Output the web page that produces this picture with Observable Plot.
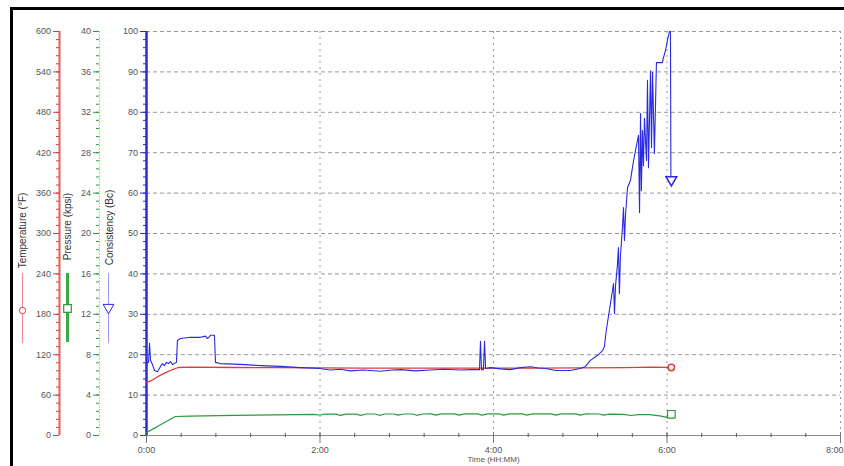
<!DOCTYPE html>
<html><head><meta charset="utf-8">
<script src="https://cdn.jsdelivr.net/npm/d3@7"></script>
<script src="https://cdn.jsdelivr.net/npm/@observablehq/plot@0.6"></script>
<style>
html,body{margin:0;padding:0;background:#fff;}
#wrap{position:relative;width:844px;height:466px;overflow:hidden;}
#frame{position:absolute;left:10px;top:7px;right:0;bottom:0;border-top:3px solid #000;border-left:3px solid #000;pointer-events:none;}
</style></head><body><div id="wrap"><div id="frame"></div></div>
<script>
// ---- data (time in minutes) ----
const timeTicks = [0, 120, 240, 360, 480];
const timeTickLabels = ["0:00", "2:00", "4:00", "6:00", "8:00"];
const tempTicks = [0, 60, 120, 180, 240, 300, 360, 420, 480, 540, 600];
const pressureTicks = [0, 4, 8, 12, 16, 20, 24, 28, 32, 36, 40];
const consistencyTicks = [0, 10, 20, 30, 40, 50, 60, 70, 80, 90, 100];

const tempMax = 600, pressureMax = 40, consistencyMax = 100;

// Temperature (°F)
const temperature = [
  [0,79],[3,81],[6,85],[10,90],[14,94],[18,98],[22,101],[30,101.5],[60,101],[90,100.8],
  [120,100.3],[150,100],[180,100.2],[210,100],[240,100],[270,100.2],[300,100.4],[330,100.8],
  [350,101.5],[363,101]
];

// Pressure (kpsi)
const pressure = [
  [0,0.30],[5,0.68],[10,1.08],[15,1.48],[20,1.88],[30,1.92],[60,1.99],[90,2.05],[115,2.10],
  [120,2.03],[124,2.12],[131,2.12],[134,2.0],[138,2.12],[145,2.12],[148,2.0],[152,2.13],
  [158,2.13],[161,2.0],[165,2.13],[171,2.13],[174,2.01],[178,2.13],[184,2.13],[187,2.0],
  [191,2.13],[197,2.14],[200,2.01],[204,2.14],[213,2.14],[216,2.01],[220,2.14],[229,2.14],
  [232,2.02],[236,2.14],[244,2.14],[247,2.02],[251,2.14],[260,2.14],[263,2.02],[267,2.14],
  [280,2.14],[283,2.02],[287,2.14],[297,2.14],[300,2.02],[304,2.14],[313,2.13],[316,2.02],
  [320,2.12],[330,2.1],[335,1.98],[340,2.06],[348,2.06],[355,1.95],[360,1.8],[361.5,2.15],[363,2.1]
];

// Consistency (Bc)
const consistency = [
  [0,17.8],[1.4,18.1],[2.1,22.8],[2.8,18.6],[4.1,17.6],[5.5,16.1],[7.6,15.8],[9.7,17.1],[11,17.8],
  [12.4,17.3],[13.8,18.1],[15.2,17.8],[16.6,18.3],[18,17.6],[20.7,18.1],[21.4,23.5],[23.5,24.0],
  [30.4,24.3],[37.3,24.3],[40.8,24.6],[42.2,24.0],[44.3,24.8],[47,24.8],[47.7,18.1],[51,17.8],
  [65,17.6],[79,17.3],[92.7,17.1],[106.5,16.8],[119.6,16.6],[127,16.2],[134,16.4],[141,16.0],
  [150,16.2],[162,15.9],[170,16.2],[176,16.3],[186,16.0],[196,16.2],[206,16.4],[217,16.2],
  [225,16.3],[230.3,16.3],[231,23.3],[231.7,16.3],[233,16.3],[233.8,23.3],[234.5,16.6],[238,16.8],
  [244.8,16.5],[251.7,16.3],[258.7,16.8],[265.6,17.0],[271,16.7],[276,16.6],[283,16.1],[293,16.1],
  [300,16.6],[303.6,17.1],[307,18.6],[312.6,20.0],[315.4,21.0],[316.7,22.0],[318,26.0],[320.9,32.7],
  [322.3,35.9],[323,37.6],[323.7,30.2],[324.4,37.1],[325.7,42.1],[326.4,46.5],[327.1,35.1],
  [327.8,44.6],[329.2,51.5],[329.9,56.4],[330.6,48.3],[331.3,54.5],[332.7,61.4],[334.7,63.1],
  [336.1,66.3],[337.5,69.3],[338.9,71.8],[340.3,74.3],[341,55.2],[341.7,79.7],[342.3,60.6],
  [343,75.5],[343.7,66.8],[344.4,78.5],[345.8,68.1],[346.5,87.9],[347.2,66.3],[348.6,90.3],
  [349.3,71.3],[350,89.9],[351.3,69.8],[352.7,92.3],[356.8,92.3],[357.6,93.6],[359,95.3],
  [360.3,97.8],[361.7,100],[362.4,100],[362.7,63.9],[363,63.3]
];

// ---- styling ----
const RED = "#e03a3a", GREEN = "#2e9a3a", BLUE = "#2a2ae0";
const LABEL = "#555";
const FONT = "Liberation Sans, Arial, sans-serif";

const tempY = v => v / tempMax * 100;
const pressY = v => v / pressureMax * 100;
const consY = v => v / consistencyMax * 100;

const minorY = d3.range(0, 100.001, 2);
const minorX = d3.range(0, 480.001, 24);

function sideAxis(ticks, toY, dx, lineColor, lineWidth, tickColor, lineDash) {
  const lab = new Map(ticks.map(v => [toY(v), String(v)]));
  return [
    Plot.ruleX([0], {dx, stroke: lineColor, strokeWidth: lineWidth, strokeDasharray: lineDash}),
    Plot.axisY({ticks: minorY, anchor: "left", dx, tickSize: 3, stroke: tickColor, fill: "none", label: null}),
    Plot.axisY({ticks: ticks.map(toY), anchor: "left", dx, tickSize: 6, tickPadding: 2.5, stroke: tickColor,
      fill: LABEL, fontSize: 9, tickFormat: d => lab.get(d), label: null})
  ];
}

const xy = (arr, toY) => arr.map(([t, v]) => ({t, y: toY(v)}));
const tempData = xy(temperature, tempY);
const pressData = xy(pressure, pressY);
const consData = xy(consistency, consY);
const labelOf = d => timeTickLabels[timeTicks.indexOf(d)];

const chart = Plot.plot({
  width: 844, height: 466,
  marginLeft: 146, marginRight: 4, marginTop: 31, marginBottom: 31,
  style: {fontFamily: FONT, fontSize: "9px", background: "transparent", overflow: "visible"},
  x: {type: "linear", domain: [0, 480], label: null},
  y: {type: "linear", domain: [0, 100], label: null},
  marks: [
    Plot.gridY({ticks: consistencyTicks.filter(v => v > 0).map(consY), stroke: "#9a9a9a", strokeOpacity: 1, strokeDasharray: "4,3"}),
    Plot.gridX({ticks: timeTicks.filter(v => v > 0), stroke: "#9a9a9a", strokeOpacity: 1, strokeDasharray: "2,4"}),
    // x axis
    Plot.ruleY([0], {stroke: "#8a8a8a"}),
    Plot.axisX({ticks: minorX, tickSize: 4, dy: -2, stroke: "#555", fill: "none", label: null}),
    Plot.axisX({ticks: timeTicks, tickSize: 11, dy: -3, stroke: "#777", fill: "none", label: null}),
    Plot.axisX({ticks: timeTicks.slice(0, -1), tickSize: 0, tickPadding: 11, stroke: "none", fill: LABEL, fontSize: 9,
      tickFormat: labelOf, label: null}),
    Plot.axisX({ticks: timeTicks.slice(-1), tickSize: 0, tickPadding: 11, stroke: "none", fill: LABEL, fontSize: 9,
      textAnchor: "end", dx: 3, tickFormat: labelOf, label: null}),
    Plot.text(["Time (HH:MM)"], {frameAnchor: "bottom", dy: 24, fontSize: 8, fill: LABEL, textAnchor: "middle", lineAnchor: "middle"}),
    // left axes
    ...sideAxis(tempTicks, tempY, -87, "#e06060", 2, RED),
    ...sideAxis(pressureTicks, pressY, -47, "#a8dca8", 1, GREEN, "2,1"),
    ...sideAxis(consistencyTicks, consY, 0, BLUE, 2.5, BLUE),
    // axis titles
    Plot.text(["Temperature (°F)"], {frameAnchor: "left", rotate: -90, dx: -124, dy: -3, fontSize: 10, fill: "#333", textAnchor: "middle", lineAnchor: "middle"}),
    Plot.text(["Pressure (kpsi)"], {frameAnchor: "left", rotate: -90, dx: -79, dy: -7, fontSize: 10, fill: "#333", textAnchor: "middle", lineAnchor: "middle"}),
    Plot.text(["Consistency (Bc)"], {frameAnchor: "left", rotate: -90, dx: -37, dy: -6, fontSize: 10, fill: "#333", textAnchor: "middle", lineAnchor: "middle"}),
    // legend swatches
    Plot.ruleX([0], {dx: -124, insetTop: 242, insetBottom: 92, stroke: "#ec8a8a", strokeWidth: 1}),
    Plot.dot([0], {frameAnchor: "left", dx: -124, dy: 77, symbol: "circle", r: 3.2, stroke: RED, fill: "white", strokeWidth: 1}),
    Plot.ruleX([0], {dx: -79, insetTop: 242, insetBottom: 93, stroke: "#3aaa44", strokeWidth: 3}),
    Plot.dot([0], {frameAnchor: "left", dx: -79, dy: 75, symbol: "square", r: 4.3, stroke: GREEN, fill: "white", strokeWidth: 1.2}),
    Plot.ruleX([0], {dx: -38, insetTop: 242, insetBottom: 92, stroke: "#9a9af0", strokeWidth: 1}),
    Plot.dot([0], {frameAnchor: "left", dx: -38, dy: 74, symbol: "triangle", rotate: 180, r: 4, stroke: BLUE, fill: "white", strokeWidth: 1}),
    // series
    Plot.line(pressData, {x: "t", y: "y", stroke: GREEN, strokeWidth: 1.2}),
    Plot.line(tempData, {x: "t", y: "y", stroke: RED, strokeWidth: 1.3}),
    Plot.line(consData, {x: "t", y: "y", stroke: BLUE, strokeWidth: 1.1}),
    // end markers
    Plot.dot(tempData.slice(-1), {x: "t", y: "y", symbol: "circle", r: 3.2, stroke: RED, fill: "white"}),
    Plot.dot(pressData.slice(-1), {x: "t", y: "y", symbol: "square", r: 4.3, stroke: GREEN, fill: "white", strokeWidth: 1.2}),
    Plot.dot(consData.slice(-1), {x: "t", y: "y", symbol: "triangle", rotate: 180, r: 4, stroke: BLUE, fill: "white"})
  ]
});
chart.style.position = "absolute";
chart.style.left = "0px";
chart.style.top = "0px";
document.getElementById("wrap").insertBefore(chart, document.getElementById("frame"));
</script>
</body></html>
